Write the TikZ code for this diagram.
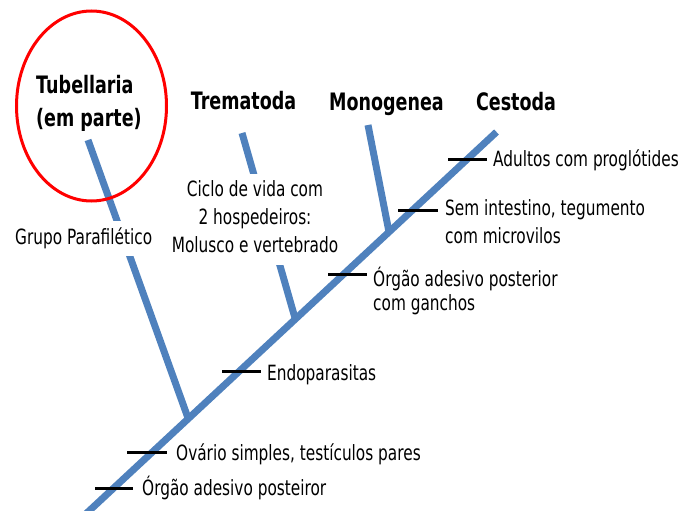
\documentclass[tikz,border=0pt]{standalone}
\usepackage{fontspec}
\setmainfont{DejaVu Sans}[FakeStretch=0.73]
\definecolor{cladeblue}{RGB}{79,129,189}
\definecolor{circred}{RGB}{255,0,0}
\tikzset{
  branch/.style={line width=7pt, draw=cladeblue},
  tickline/.style={line width=3pt, draw=black},
  lab/.style={inner sep=0pt, anchor=base west, font=\fontsize{21}{28}\selectfont},
  coverlab/.style={fill=white, inner xsep=2pt, inner ysep=3.4pt, font=\fontsize{21}{28}\selectfont},
  title/.style={inner sep=0pt, anchor=base, font=\bfseries\fontsize{24}{33}\selectfont},
  ring/.style={line width=3pt, draw=circred},
}
\begin{document}
\begin{tikzpicture}[x=1pt,y=-1pt]
\useasboundingbox (0,0) rectangle (699,511);
\clip (0,0) rectangle (699,511);
% coordinates of the tree
\coordinate (root) at (80.4,519);
\coordinate (cesttop) at (496.5,132);
\coordinate (tubtop) at (88,140);
\coordinate (tubjoin) at (188,418);
\coordinate (tretop) at (242,133);
\coordinate (trejoin) at (295,318);
\coordinate (montop) at (368,125);
\coordinate (monjoin) at (389,232);
% side branches
\draw[branch] (tubtop) -- (tubjoin);
\draw[branch] (tretop) -- (trejoin);
\draw[branch] (montop) -- (monjoin);
% labels that cover the branches
\node[coverlab, anchor=base west] (grupo) at (13,244) {\strut Grupo Parafilético};
\node[coverlab, anchor=base] (ciclo) at (255,196.7) {\begin{tabular}[t]{@{}c@{}}Ciclo de vida com\\2 hospedeiros:\\Molusco e vertebrado\end{tabular}};
% main line
\draw[branch] (root) -- (cesttop);
% ticks
\coordinate (a1) at (448,159); \coordinate (a2) at (487,159);
\coordinate (b1) at (398,210); \coordinate (b2) at (438,210);
\coordinate (c1) at (328,274); \coordinate (c2) at (367,274);
\coordinate (d1) at (222,371); \coordinate (d2) at (261,371);
\coordinate (e1) at (127,452); \coordinate (e2) at (167,452);
\coordinate (f1) at (95,488);  \coordinate (f2) at (133,488);
\draw[tickline] (a1) -- (a2);
\draw[tickline] (b1) -- (b2);
\draw[tickline] (c1) -- (c2);
\draw[tickline] (d1) -- (d2);
\draw[tickline] (e1) -- (e2);
\draw[tickline] (f1) -- (f2);
% character labels
\node[lab] (adultos) at (493,166) {Adultos com proglótides};
\node[lab] (semint) at (445,215.7) {\begin{tabular}[t]{@{}l@{}}Sem intestino, tegumento\\com microvilos\end{tabular}};
\node[lab, font=\fontsize{21}{24.5}\selectfont] (orgao1) at (373,286) {\begin{tabular}[t]{@{}l@{}}Órgão adesivo posterior\\com ganchos\end{tabular}};
\node[lab] (endo) at (267,380) {Endoparasitas};
\node[lab] (ovario) at (176,460.7) {Ovário simples, testículos pares};
\node[lab] (orgao2) at (142,495) {Órgão adesivo posteiror};
% titles
\node[title, anchor=base west] (tub) at (36,93) {\begin{tabular}[t]{@{}l@{}}Tubellaria\\(em parte)\end{tabular}};
\node[title] (trem) at (243.5,110) {Trematoda};
\node[title] (mono) at (386.5,110.5) {Monogenea};
\node[title] (cest) at (516,110.5) {Cestoda};
% red ring
\draw[ring] (91.5,106) ellipse [x radius=75, y radius=95];
\end{tikzpicture}
\end{document}
